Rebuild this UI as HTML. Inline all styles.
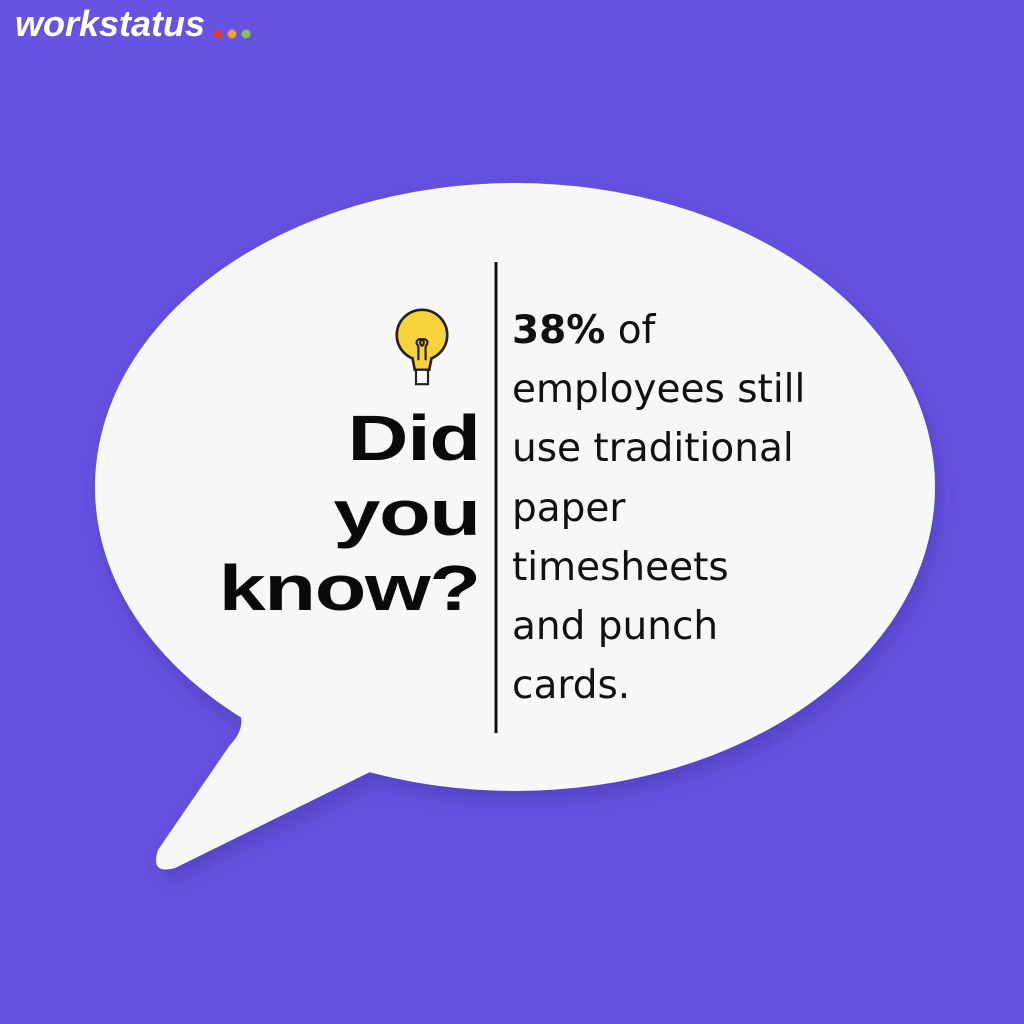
<!DOCTYPE html>
<html><head><meta charset="utf-8"><style>
body{margin:0;width:1024px;height:1024px;background:#6653e2;overflow:hidden;position:relative;font-family:"Liberation Sans",sans-serif}
.abs{position:absolute}
</style></head><body>
<div class="abs" style="left:15px;top:3px;font-size:36px;font-weight:bold;font-style:italic;color:#fff">workstatus</div>
<svg class="abs" style="left:0;top:0" width="1024" height="1024">
<defs><filter id="s" x="-20%" y="-20%" width="140%" height="140%"><feDropShadow dx="4" dy="10" stdDeviation="12" flood-color="#3a2a9a" flood-opacity="0.45"/></filter></defs>
<circle cx="218" cy="34" r="4.5" fill="#e23a3a"/><circle cx="232" cy="34" r="4.5" fill="#f0a030"/><circle cx="246" cy="34" r="4.5" fill="#8cc050"/>
<g filter="url(#s)" fill="#f7f7f7">
<ellipse cx="515" cy="487" rx="420" ry="304"/>
<path d="M235 700 Q250 725 230 745 L158 850 Q150 875 175 868 L370 772 Z"/>
</g>
<line x1="496" y1="262" x2="496" y2="733" stroke="#111" stroke-width="3"/>
<g transform="translate(422,341) scale(1.2)">
<circle cx="0" cy="-5" r="21" fill="#f8d23a" stroke="#222" stroke-width="2.2"/>
<path d="M-8 14 L-6 24 L6 24 L8 14" fill="#f8d23a" stroke="#222" stroke-width="2.2"/>
<rect x="-5" y="24" width="10" height="12" fill="#fff" stroke="#222" stroke-width="1.8"/>
<path d="M-3 16 L-3 4 M3 16 L3 4 M-3 4 a3 3 0 1 1 3 0 a3 3 0 1 1 3 0" fill="none" stroke="#222" stroke-width="1.8"/>
</g>
</svg>
<div class="abs" style="right:544px;top:401px;text-align:right;font-size:64px;font-weight:bold;line-height:75px;color:#0a0a0a;letter-spacing:-1px;transform:scaleX(1.32);transform-origin:right top">Did<br>you<br>know?</div>
<div class="abs" style="left:512px;top:301px;line-height:59.2px;color:#111;font-family:'DejaVu Sans',sans-serif;font-size:39px"><b>38%</b> of<br>employees still<br>use traditional<br>paper<br>timesheets<br>and punch<br>cards.</div>
</body></html>
